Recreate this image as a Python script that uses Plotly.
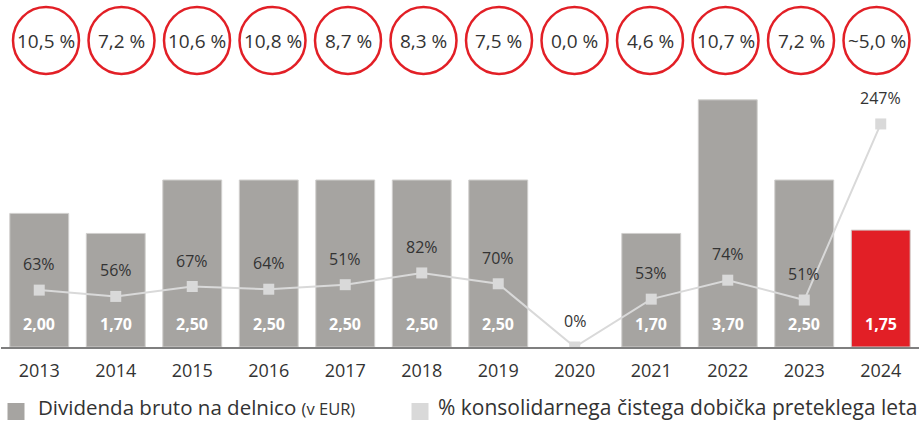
import plotly.graph_objects as go

years = ["2013", "2014", "2015", "2016", "2017", "2018", "2019", "2020", "2021", "2022", "2023", "2024"]
dividend = [2.00, 1.70, 2.50, 2.50, 2.50, 2.50, 2.50, 0.0, 1.70, 3.70, 2.50, 1.75]
dividend_labels = ["2,00", "1,70", "2,50", "2,50", "2,50", "2,50", "2,50", "", "1,70", "3,70", "2,50", "1,75"]
# marker positions as drawn in the picture (2017 is drawn at ~69 although labelled 51%)
payout_pct = [63, 56, 67, 64, 69, 82, 70, 0, 53, 74, 52, 247]
payout_labels = ["63%", "56%", "67%", "64%", "51%", "82%", "70%", "0%", "53%", "74%", "51%", "247%"]
yield_labels = ["10,5 %", "7,2 %", "10,6 %", "10,8 %", "8,7 %", "8,3 %", "7,5 %", "0,0 %", "4,6 %", "10,7 %", "7,2 %", "~5,0 %"]

W_PX, H_PX = 919, 423
L, R, T, B = 1, 0, 90, 76
PW = W_PX - L - R
PH = H_PX - T - B
BASE = H_PX - B

def px_x(px):
    return (px - L) / PW

def px_y(py):
    return (BASE - py) / PH

GRAY = "#A6A4A1"
RED = "#E21F26"
LINE = "#D9D9D9"
TXT = "#333333"
FONT = "Open Sans"

bar_colors = [GRAY] * (len(years) - 1) + [RED]
bar_line_w = [1 if v > 0 else 0 for v in dividend]

fig = go.Figure()
fig.add_trace(go.Bar(
    x=years, y=dividend,
    marker=dict(color=bar_colors, line=dict(color="#D0CFCD", width=bar_line_w)),
    yaxis="y", showlegend=False, hoverinfo="skip",
))
fig.add_trace(go.Scatter(
    x=years, y=payout_pct, yaxis="y2", mode="lines+markers",
    line=dict(color=LINE, width=2),
    marker=dict(symbol="square", size=11, color=LINE),
    showlegend=False, hoverinfo="skip",
))

annotations = []
for i, (lab, v) in enumerate(zip(dividend_labels, dividend)):
    if v > 0:
        annotations.append(dict(x=i, y=0, xref="x", yref="y", text=f"<b>{lab}</b>",
                                showarrow=False, yshift=23, yanchor="middle",
                                font=dict(family=FONT, size=16, color="white")))
for i, (p, lab) in enumerate(zip(payout_pct, payout_labels)):
    annotations.append(dict(x=i, y=p, xref="x", yref="y2", text=lab,
                            showarrow=False, yshift=26, yanchor="middle",
                            font=dict(family=FONT, size=16, color=TXT)))

shapes = []
for i, lab in enumerate(yield_labels):
    cx = px_x(46 + 75.5 * i)
    cy = px_y(40.5)
    shapes.append(dict(type="circle", xref="paper", yref="paper",
                       xsizemode="pixel", ysizemode="pixel",
                       xanchor=cx, yanchor=cy, x0=-33, x1=33, y0=-33.5, y1=33.5,
                       line=dict(color=RED, width=2.5), fillcolor="rgba(0,0,0,0)"))
    annotations.append(dict(x=cx, y=cy, xref="paper", yref="paper", text=lab,
                            showarrow=False, xanchor="center", yanchor="middle",
                            font=dict(family=FONT, size=19, color=TXT)))

# custom legend
leg_y = px_y(423)
for sq_x, color, text, tx, fs in [
    (16, GRAY, "Dividenda bruto na delnico <span style='font-size:16.5px'>(v EUR)</span>", 36, 20.5),
    (420, LINE, "% konsolidarnega čistega dobička preteklega leta", 436, 21),
]:
    shapes.append(dict(type="rect", xref="paper", yref="paper",
                       xsizemode="pixel", ysizemode="pixel",
                       xanchor=px_x(sq_x), yanchor=px_y(411.5), x0=-8.5, x1=8.5, y0=-8.5, y1=8.5,
                       line=dict(width=0), fillcolor=color))
    annotations.append(dict(x=px_x(tx), y=leg_y, xref="paper", yref="paper", text=text,
                            showarrow=False, xanchor="left", yanchor="bottom",
                            font=dict(family=FONT, size=fs, color=TXT)))

fig.update_layout(
    width=W_PX, height=H_PX,
    margin=dict(l=L, r=R, t=T, b=B, pad=0),
    paper_bgcolor="white", plot_bgcolor="white",
    bargap=0.23,
    xaxis=dict(type="category", range=[-0.5, 11.5], showgrid=False, zeroline=False,
               showline=True, linecolor="#7F7F7F", linewidth=2, ticks="",
               tickfont=dict(family=FONT, size=18, color=TXT), ticklabelstandoff=6),
    yaxis=dict(range=[0, PH / 66.8], visible=False, showgrid=False, zeroline=False),
    yaxis2=dict(range=[0, PH / 0.903], overlaying="y", visible=False, showgrid=False, zeroline=False),
    annotations=annotations,
    shapes=shapes,
)

fig.write_html("out.html")
